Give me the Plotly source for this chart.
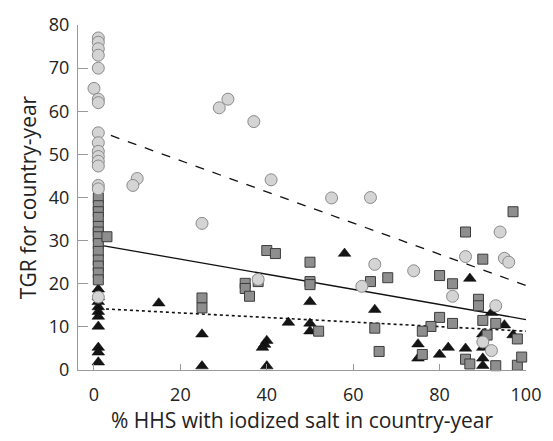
import plotly.graph_objects as go

# Circles (light gray) series
circ_x = [1, 1, 1, 1, 1, 0, 1, 1, 1, 1, 1, 1, 1, 1, 1, 1, 1, 10, 9,
          31, 29, 37, 41, 55, 25, 38, 64, 94, 86, 95, 96, 65, 74, 62, 83, 93, 90, 92]
circ_y = [77, 76, 74.5, 73, 70, 65.3, 62.8, 62, 55, 52.7, 50.7, 49.5, 48.4, 47.3, 42.8, 42, 16.9, 44.4, 42.8,
          62.8, 60.8, 57.6, 44.1, 39.9, 34, 21, 40, 32, 26.3, 25.9, 25, 24.5, 23, 19.4, 17.1, 14.9, 6.5, 4.5]

# Squares (dark gray) series
sq_x = [1, 1, 1, 1, 1, 1, 1, 1, 1, 1, 1, 1, 1, 3,
        40, 42, 50, 35, 35, 38, 36, 50, 50, 25, 25, 52,
        97, 86, 90, 64, 68, 80, 83, 89, 89, 80, 78, 76, 83, 90, 93, 91, 98, 65, 66, 76, 86, 87, 93, 98, 99]
sq_y = [39.9, 38.1, 36.7, 35.4, 33.3, 32, 30.9, 29.3, 27.5, 25.5, 24.1, 22.5, 20.9, 30.9,
        27.7, 27, 25, 20.1, 18.9, 20.5, 17.1, 20.5, 19.8, 16.7, 14.4, 9,
        36.7, 32, 25.7, 20.5, 21.4, 21.9, 20, 16.4, 14.9, 12.2, 10.1, 9, 10.8, 11.5, 10.8, 8.1, 7.2, 9.7, 4.3, 3.6, 2.5, 1.4, 1, 1.1, 3]

# Triangles (black) series
tri_x = [1, 1, 1, 1, 1, 1, 1, 1, 1, 1,
         15, 25, 25, 40, 39.5, 39, 40, 45, 50, 50, 50, 58,
         87, 65, 92, 95, 90, 97, 75, 82, 86, 90, 75, 80, 90, 90]
tri_y = [18.7, 16.9, 15.8, 14.6, 13.5, 12.4, 10.1, 5.2, 4.1, 1.8,
         15.5, 8.3, 0.9, 6.8, 5.9, 5.2, 0.9, 11, 15.8, 10.8, 9, 27,
         21.2, 14, 13.3, 10.4, 8.3, 8.1, 6, 5.2, 5, 5.2, 2.7, 3.6, 2.7, 1]

# Fitted regression lines: value at x=0 and x=100
fit_x = [0, 100]
fit_circ = [55.8, 19.6]
fit_sq = [29.2, 11.7]
fit_tri = [14.3, 9.0]

fig = go.Figure()
fig.add_trace(go.Scatter(x=fit_x, y=fit_circ, mode="lines",
                         line=dict(color="#111", width=1.3, dash="dash"), cliponaxis=False))
fig.add_trace(go.Scatter(x=fit_x, y=fit_sq, mode="lines",
                         line=dict(color="#111", width=1.3), cliponaxis=False))
fig.add_trace(go.Scatter(x=fit_x, y=fit_tri, mode="lines",
                         line=dict(color="#111", width=1.6, dash="dot"), cliponaxis=False))
fig.add_trace(go.Scatter(x=tri_x, y=tri_y, mode="markers", cliponaxis=False,
                         marker=dict(symbol="triangle-up", size=11, color="#151515",
                                     line=dict(color="#000", width=0.5))))
fig.add_trace(go.Scatter(x=sq_x, y=sq_y, mode="markers", cliponaxis=False,
                         marker=dict(symbol="square", size=10, color="#8e8e8e",
                                     line=dict(color="#3c3c3c", width=1))))
fig.add_trace(go.Scatter(x=circ_x, y=circ_y, mode="markers", cliponaxis=False,
                         marker=dict(symbol="circle", size=12, color="#d4d4d4",
                                     line=dict(color="#8a8a8a", width=1))))

tick_font = dict(family="Open Sans", size=18, color="#222")
title_font = dict(family="Open Sans", size=21, color="#222")
fig.update_layout(
    width=553, height=441,
    margin=dict(l=78, r=26, t=15, b=71),
    plot_bgcolor="white", paper_bgcolor="white",
    showlegend=False,
    font=tick_font,
    xaxis=dict(range=[-3.7, 100], tickvals=[0, 20, 40, 60, 80, 100],
               ticks="inside", ticklen=6, tickcolor="#999", showline=True, linecolor="#999",
               linewidth=1, showgrid=False, zeroline=False, tickfont=tick_font,
               ticklabelstandoff=8,
               title=dict(text="% HHS with iodized salt in country-year", font=title_font, standoff=7)),
    yaxis=dict(range=[0, 80], tickvals=list(range(0, 81, 10)),
               ticks="inside", ticklen=10, tickcolor="#999", showline=True, linecolor="#999",
               linewidth=1, showgrid=False, zeroline=False, tickfont=tick_font,
               ticklabelstandoff=4,
               title=dict(text="TGR for country-year", font=title_font, standoff=6)),
)
fig.write_html("out.html")
